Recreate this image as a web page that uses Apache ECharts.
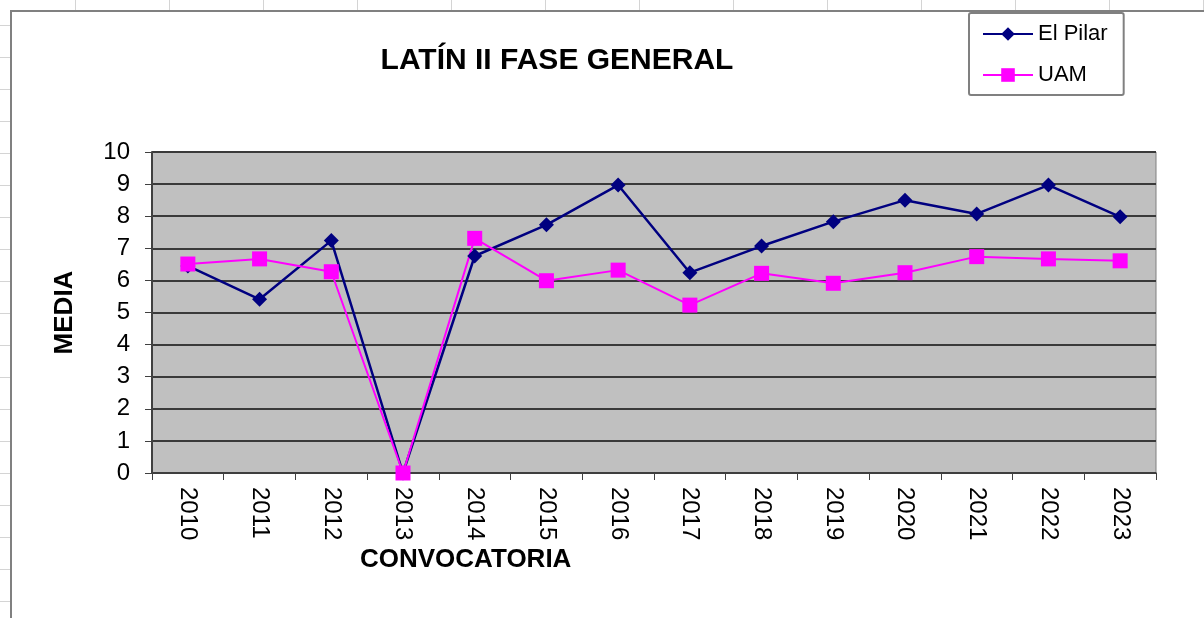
<!DOCTYPE html>
<html>
<head>
<meta charset="utf-8">
<script src="https://cdn.jsdelivr.net/npm/echarts@6/dist/echarts.min.js"></script>
<style>
  html, body { margin: 0; padding: 0; }
  body {
    width: 1204px; height: 618px; overflow: hidden; position: relative;
    background-color: #fff;
    background-image:
      linear-gradient(to right, #d4d4d4 1px, transparent 1px),
      linear-gradient(to bottom, #d4d4d4 1px, transparent 1px);
    background-size: 94px 32px;
    background-position: 75px 25px;
  }
  .sheet {
    position: absolute; left: 10px; top: 10px; width: 1220px; height: 640px;
    background: #fff; border: 2px solid #808080; box-sizing: border-box;
  }
  #main { position: absolute; left: 0; top: 0; width: 1204px; height: 618px; }
</style>
</head>
<body>
<div class="sheet"></div>
<div id="main"></div>
<script>
  const years = ['2010', '2011', '2012', '2013', '2014', '2015', '2016', '2017', '2018', '2019', '2020', '2021', '2022', '2023']
  const elPilar = [6.45, 5.41, 7.24, 0, 6.76, 7.73, 8.97, 6.24, 7.07, 7.83, 8.5, 8.07, 8.97, 7.98]
  const uam = [6.51, 6.67, 6.27, 0, 7.31, 5.99, 6.32, 5.23, 6.22, 5.91, 6.24, 6.74, 6.67, 6.61]

  const font = 'Liberation Sans, Arial, sans-serif'
  const chart = echarts.init(document.getElementById('main'))

  chart.setOption({
    textStyle: {fontFamily: font},
    title: {
      text: 'LATÍN II FASE GENERAL',
      left: 552,
      top: 41,
      textAlign: 'center',
      textStyle: {fontSize: 30, fontWeight: 'bold', color: '#000', fontFamily: font}
    },
    legend: {
      orient: 'vertical',
      left: 969,
      top: 13,
      padding: [10, 16, 9, 13],
      itemGap: 19,
      itemWidth: 50,
      itemHeight: 17,
      backgroundColor: '#fff',
      borderColor: '#808080',
      borderWidth: 2,
      borderRadius: 2,
      textStyle: {fontSize: 22, color: '#000', fontFamily: font},
      data: ['El Pilar', 'UAM']
    },
    grid: {left: 152, right: 48, top: 152, bottom: 145, show: true, backgroundColor: '#c0c0c0', borderColor: '#808080', borderWidth: 1},
    xAxis: {
      type: 'category',
      data: years,
      boundaryGap: true,
      axisLine: {lineStyle: {color: '#404040', width: 1.5}},
      axisTick: {show: true, length: 7, lineStyle: {color: '#404040'}},
      axisLabel: {rotate: -90, margin: 14, fontSize: 24, color: '#000', fontFamily: font}
    },
    yAxis: {
      type: 'value',
      min: 0,
      max: 10,
      interval: 1,
      name: 'MEDIA',
      nameLocation: 'middle',
      nameRotate: 90,
      nameGap: 74,
      nameTextStyle: {fontSize: 26, fontWeight: 'bold', color: '#000', fontFamily: font},
      axisLine: {show: true, lineStyle: {color: '#404040', width: 2}},
      axisTick: {show: true, length: 7, lineStyle: {color: '#404040'}},
      axisLabel: {margin: 22, fontSize: 24, color: '#000', fontFamily: font},
      splitLine: {lineStyle: {color: '#3a3a3a', width: 2}}
    },
    graphic: [{
      type: 'text',
      left: 360,
      top: 547,
      style: {text: 'CONVOCATORIA', font: 'bold 26px ' + font, fill: '#000'}
    }],
    series: [
      {
        name: 'El Pilar',
        type: 'line',
        data: elPilar,
        symbol: 'diamond',
        symbolSize: 15,
        color: '#000080',
        lineStyle: {width: 2.5, color: '#000080'},
        itemStyle: {color: '#000080'}
      },
      {
        name: 'UAM',
        type: 'line',
        data: uam,
        symbol: 'rect',
        symbolSize: 15,
        color: '#ff00ff',
        lineStyle: {width: 2, color: '#ff00ff'},
        itemStyle: {color: '#ff00ff'}
      }
    ]
  })
</script>
</body>
</html>
